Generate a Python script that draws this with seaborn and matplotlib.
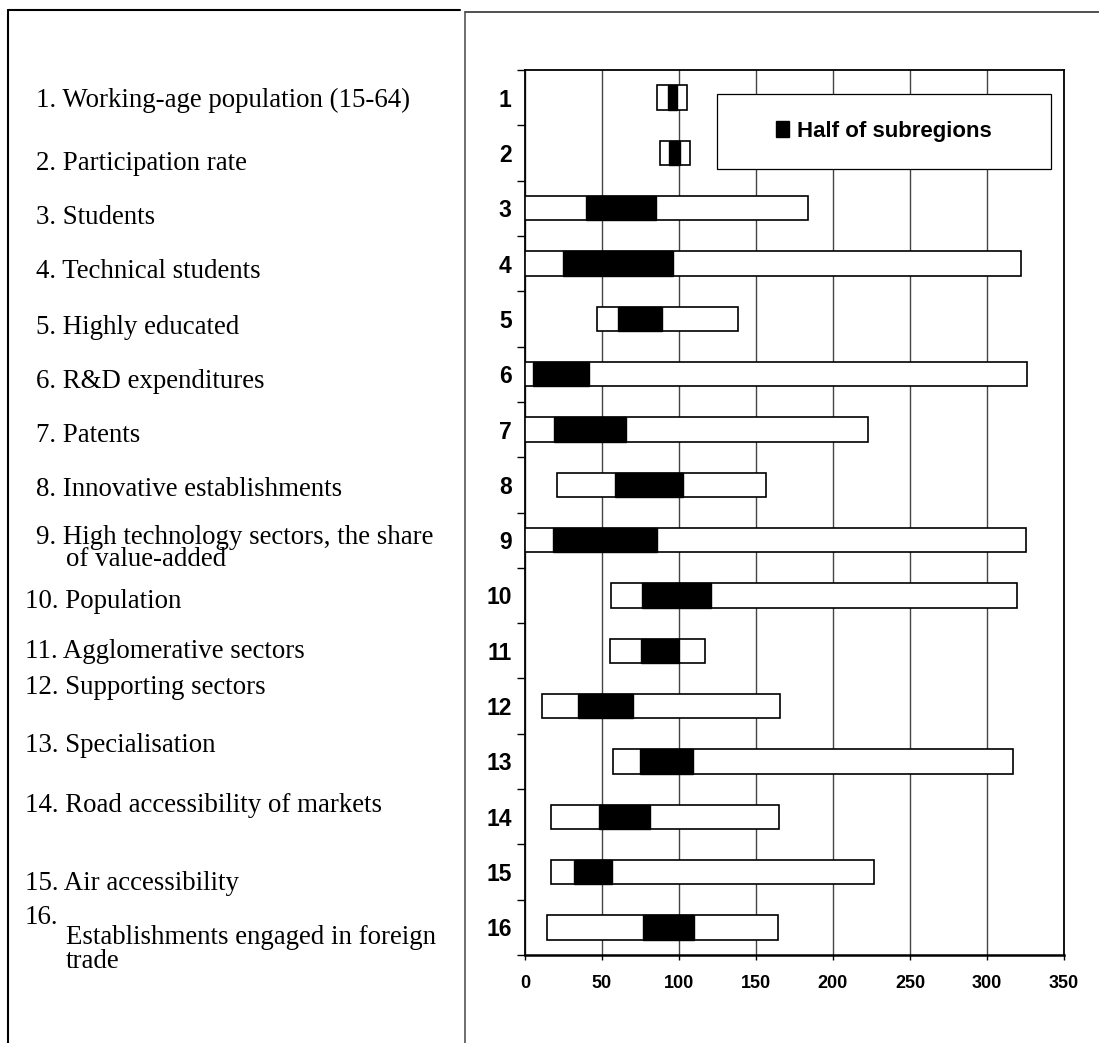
import numpy as np
import pandas as pd
import seaborn as sns
import matplotlib.pyplot as plt
from matplotlib.patches import Patch, Rectangle
from matplotlib.lines import Line2D

# ==== Data: range of subregion values per indicator (index, EU/country = 100) ====
indicators = [str(i) for i in range(1, 17)]
labels = [
    "1. Working-age population (15-64)",
    "2. Participation rate",
    "3. Students",
    "4. Technical students",
    "5. Highly educated",
    "6. R&D expenditures",
    "7. Patents",
    "8. Innovative establishments",
    "9. High technology sectors, the share",
    "10. Population",
    "11. Agglomerative sectors",
    "12. Supporting sectors",
    "13. Specialisation",
    "14. Road accessibility of markets",
    "15. Air accessibility",
]
minimum = [86, 87.5, 0, 0, 47, 0, 0, 21, 0, 56, 55, 11, 57, 17, 17, 14.5]
lower_half = [92.6, 93.7, 39.4, 24.7, 60.4, 5.4, 18.8, 58.7, 18.4, 76.2, 75.5, 34.6, 74.9, 48.2, 32, 76.8]
upper_half = [98.4, 100.8, 84.9, 96.1, 89.0, 41.8, 65.6, 102.6, 85.9, 120.8, 99.8, 70.3, 109.1, 80.9, 56.6, 110]
maximum = [105.4, 107.1, 184, 322.3, 138.3, 326.2, 222.9, 156.5, 325.1, 319.5, 117.1, 165.6, 316.9, 165.1, 226.3, 164.5]
x_ticks = [0, 50, 100, 150, 200, 250, 300, 350]

df = pd.DataFrame({
    "indicator": indicators,
    "min": minimum,
    "q_lo": lower_half,
    "q_hi": upper_half,
    "max": maximum,
})
df["span"] = df["max"] - df["min"]
df["half"] = df["q_hi"] - df["q_lo"]

sns.set_theme(style="white")
plt.rcParams["font.family"] = ["Liberation Sans", "DejaVu Sans"]
plt.rcParams["text.color"] = "black"
plt.rcParams["xtick.color"] = "black"
plt.rcParams["ytick.color"] = "black"

W, H = 1099, 1043
fig = plt.figure(figsize=(W / 100, H / 100), dpi=100)
ax = fig.add_axes([525 / W, 1 - 955 / H, (1064 - 525) / W, (955 - 70) / H])

# === Full range (white) and middle half of subregions (black) ===
sns.barplot(data=df, x="span", y="indicator", order=indicators, orient="h",
            width=0.44, color="white", edgecolor="black", linewidth=1.2,
            left=df["min"].values, saturation=1, ax=ax, zorder=3)
sns.barplot(data=df, x="half", y="indicator", order=indicators, orient="h",
            width=0.44, color="black", edgecolor="black", linewidth=1.0,
            left=df["q_lo"].values, saturation=1, ax=ax, zorder=4)

ax.set_xlim(0, 350)
ax.set_ylim(15.5, -0.5)
ax.set_xticks(x_ticks)
ax.set_xticklabels([str(t) for t in x_ticks], fontsize=13, fontweight="bold", color="black")
ax.set_yticks(range(16))
ax.set_yticklabels(indicators, fontsize=16.5, fontweight="bold", color="black")
ax.set_yticks(np.arange(-0.5, 16, 1), minor=True)
ax.set_xlabel("")
ax.set_ylabel("")
ax.tick_params(axis="y", which="major", length=0, pad=9.6, colors="black")
ax.tick_params(axis="y", which="minor", length=6, width=1, direction="out", left=True, color="black")
ax.tick_params(axis="x", which="major", length=3.6, width=1, direction="out", bottom=True, pad=10.5, colors="black")

ax.grid(axis="x", color="#444444", linewidth=1.0, zorder=0)
ax.grid(axis="y", visible=False)
ax.set_axisbelow(True)
for side in ax.spines.values():
    side.set_visible(True)
    side.set_color("black")
    side.set_linewidth(1.3)
ax.spines["bottom"].set_linewidth(1.8)

# === Legend box ===
ax.add_patch(Rectangle((0.3557, 0.8885), 0.6196, 0.084, transform=ax.transAxes,
                       facecolor="white", edgecolor="black", linewidth=0.9, zorder=5))
leg = ax.legend(handles=[Patch(facecolor="black", edgecolor="black")], labels=["Half of subregions"],
                loc="center", bbox_to_anchor=(0.6655, 0.9305), frameon=False,
                prop={"weight": "bold", "size": 16}, handlelength=0.62, handleheight=0.72,
                handletextpad=0.35, labelcolor="black")
leg.set_zorder(6)

# === Left panel: indicator names ===
serif = ["Liberation Serif", "DejaVu Serif"]
fs = 19.4
label_y = [100, 163, 217, 272, 327, 381, 436, 490, 537, 601, 651, 687, 746, 805, 883]
for text, y in zip(labels, label_y):
    x = 36 if len(text.split(".")[0]) == 1 else 25
    fig.text(x / W, 1 - y / H, text, family=serif, fontsize=fs, va="center", ha="left", color="black")
fig.text(66 / W, 1 - 560 / H, "of value-added", family=serif, fontsize=fs, va="center", ha="left", color="black")
fig.text(25 / W, 1 - 917 / H, "16.", family=serif, fontsize=fs, va="center", ha="left", color="black")
fig.text(66 / W, 1 - 938 / H, "Establishments engaged in foreign", family=serif, fontsize=fs, va="center", ha="left", color="black")
fig.text(66 / W, 1 - 961 / H, "trade", family=serif, fontsize=fs, va="center", ha="left", color="black")

# === Panel frames ===
def frame_line(x0, y0, x1, y1, lw=1.5, color="black"):
    fig.add_artist(Line2D([x0 / W, x1 / W], [1 - y0 / H, 1 - y1 / H], color=color, linewidth=lw))

frame_line(8, 10, 460, 10)
frame_line(8, 10, 8, H)
frame_line(465, 12, W, 12, lw=1.2, color="#333333")
frame_line(465, 12, 465, H, lw=1.2, color="#555555")

fig.savefig("out.png", dpi=100, facecolor="white")
